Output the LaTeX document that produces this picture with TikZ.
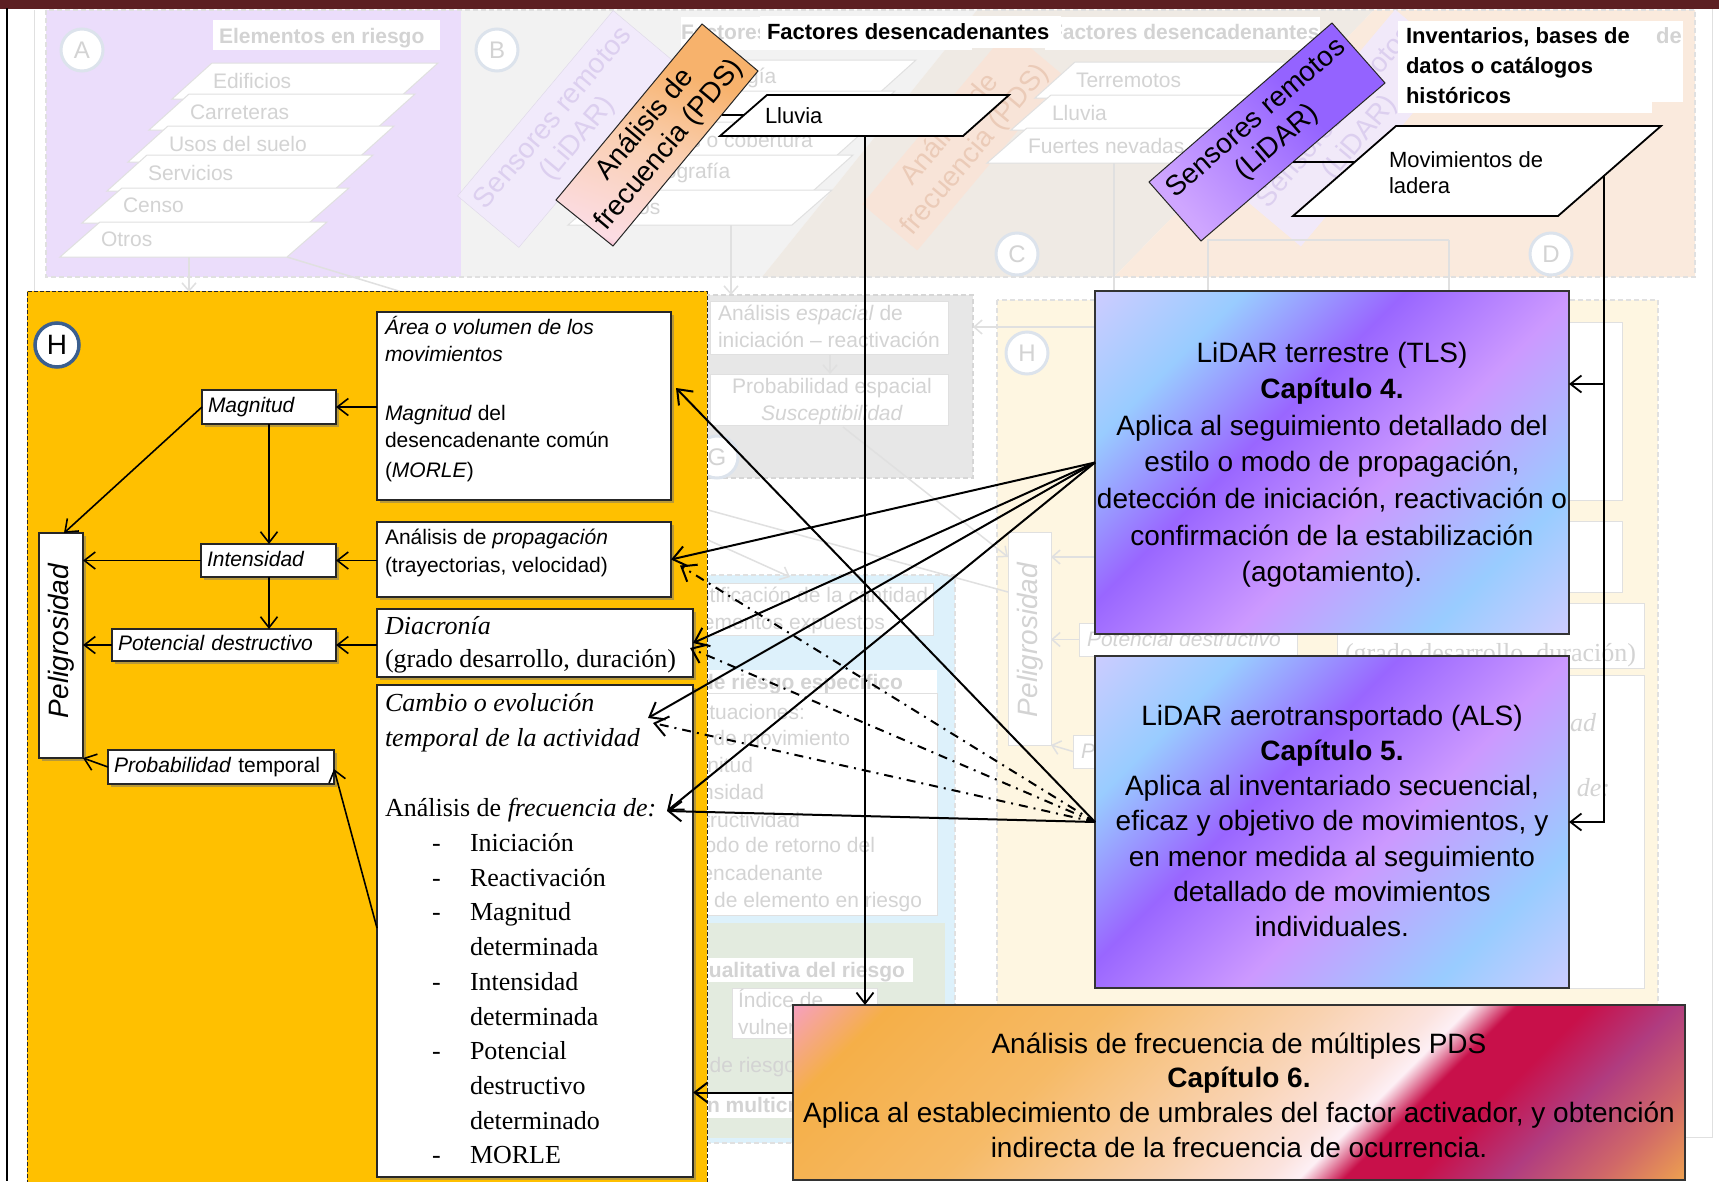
\documentclass[tikz,border=0pt]{standalone}
\usepackage{fontspec}
\setmainfont{Liberation Sans}
\newfontfamily\serifface{Liberation Serif}
\usetikzlibrary{arrows.meta,calc,shadows}

% ---------- palette ----------
\definecolor{topbar}{HTML}{5C1F22}
\definecolor{hazard}{HTML}{FFC000}
\definecolor{ringblue}{HTML}{3B5F8F}
\definecolor{ghost}{HTML}{D3D3D3}
\definecolor{ghostline}{HTML}{E0E0E0}
\definecolor{ghostA}{HTML}{EBDDFB}
\definecolor{ghostB}{HTML}{F2F2F2}
\definecolor{ghostC}{HTML}{EFEAE4}
\definecolor{ghostD}{HTML}{FAEADD}
\definecolor{ghostG}{HTML}{E7E7E7}
\definecolor{ghostSky}{HTML}{DDF1FB}
\definecolor{ghostGreen}{HTML}{E3EBDF}
\definecolor{ghostYellow}{HTML}{FEF6E1}
\definecolor{ghostRing}{HTML}{DCE3EC}
\definecolor{ghostLilac}{HTML}{F1E9FD}
\definecolor{ghostLilacTxt}{HTML}{DCCFEF}
\definecolor{ghostPeach}{HTML}{FBE3D6}
\definecolor{ghostPeachTxt}{HTML}{EBCBB8}
\definecolor{lavA}{HTML}{CCCCFF}
\definecolor{skyB}{HTML}{99CCFF}
\definecolor{violC}{HTML}{9966FF}
\definecolor{lilacD}{HTML}{CC99FF}
\definecolor{capPink}{HTML}{F6A0BE}
\definecolor{capOrange}{HTML}{F5AF48}
\definecolor{capOrangeB}{HTML}{F6BA66}
\definecolor{capPeach}{HTML}{F9D2B0}
\definecolor{capBlush}{HTML}{FBE3DE}
\definecolor{capWhite}{HTML}{FDF0F5}
\definecolor{capCrimson}{HTML}{C8104A}
\definecolor{capPlum}{HTML}{B03C80}
\definecolor{capRose}{HTML}{D06868}
\definecolor{capEnd}{HTML}{EDA050}
\definecolor{pdsMag}{HTML}{E8388C}
\definecolor{pdsPink}{HTML}{FBDCE4}
\definecolor{pdsPeach}{HTML}{FAD0B4}
\definecolor{pdsOrange}{HTML}{F7B26C}
\definecolor{sensLight}{HTML}{CFA6FF}
\definecolor{sensDeep}{HTML}{9463FF}

% ---------- gradients ----------
\pgfdeclarehorizontalshading{lidarfill}{100bp}{color(0bp)=(lavA); color(19.7bp)=(lavA); color(30.6bp)=(skyB); color(42.7bp)=(violC); color(55.5bp)=(lilacD); color(70bp)=(skyB); color(80.3bp)=(lavA); color(100bp)=(lavA)}
\pgfdeclarehorizontalshading{capfill}{100bp}{color(0bp)=(capPink); color(28.8bp)=(capPink); color(32.6bp)=(capOrange); color(41.5bp)=(capOrangeB); color(50bp)=(capPeach); color(54.5bp)=(capBlush); color(55.8bp)=(capWhite); color(57.6bp)=(capCrimson); color(60.5bp)=(capCrimson); color(64bp)=(capPlum); color(67.8bp)=(capRose); color(71.2bp)=(capEnd); color(100bp)=(capEnd)}
\pgfdeclarehorizontalshading{pdsfill}{100bp}{color(0bp)=(pdsMag); color(14bp)=(pdsMag); color(24bp)=(pdsPink); color(46bp)=(pdsPeach); color(66bp)=(pdsOrange); color(100bp)=(pdsOrange)}
\pgfdeclarehorizontalshading{sensfill}{100bp}{color(0bp)=(sensLight); color(25bp)=(sensLight); color(60bp)=(sensDeep); color(100bp)=(sensDeep)}

% a faded parallelogram slab with its label
\newcommand{\ghostslab}[6]{%
  \filldraw[fill=white,draw=ghostline,line width=1pt] (#2,#4) -- (#3,#4) -- (#3-40,#5) -- (#2-40,#5) -- cycle;
  \node[ghosttext,anchor=west] (#1) at (#2+1,{(#4+#5)/2}) {#6};}

\begin{document}
\begin{tikzpicture}[x=1pt,y=-1pt,
  every node/.style={inner sep=0pt,outer sep=0pt},
  ghosttext/.style={text=ghost,font=\fontsize{21}{25}\selectfont},
  ghostbold/.style={text=ghost,font=\bfseries\fontsize{21}{25}\selectfont},
  ghostserif/.style={text=ghost,font=\serifface\fontsize{26}{30}\selectfont},
  ghostbox/.style={fill=white,draw=ghostline,line width=1pt},
  ghostarrow/.style={draw=ghostline,line width=1.5pt,-{Straight Barb[length=8pt,width=14pt]}},
  ghostring/.style={circle,minimum size=42pt,fill=white,draw=ghostRing,line width=3pt,text=ghost,font=\fontsize{24}{24}\selectfont},
  wbox/.style={draw=black!85,fill=white,line width=1.2pt,drop shadow={shadow xshift=2.5pt,shadow yshift=-2.5pt,fill=black!55,opacity=0.5}},
  tagbox/.style={wbox,anchor=north west,align=left,inner xsep=6pt,font=\fontsize{21}{26}\selectfont,text height=15.5pt,text depth=4.5pt},
  sansline/.style={anchor=base west,font=\fontsize{21}{26}\selectfont},
  serifline/.style={anchor=base west,font=\serifface\fontsize{26}{30}\selectfont},
  boxline/.style={anchor=base,font=\fontsize{28}{34}\selectfont},
  arrowlink/.style={line width=1.6pt,-{Straight Barb[length=11pt,width=17pt]}},
  hubline/.style={line width=2pt,-{Straight Barb[length=13pt,width=20pt]}},
  hubdots/.style={hubline,dash pattern=on 9pt off 6pt on 2pt off 6pt},
]
\useasboundingbox (0,0) rectangle (1719,1181);
\fill[white] (0,0) rectangle (1719,1181);

% =============== washed-out scheme in the background ===============
\fill[ghostA] (46,10) rectangle (461,277);
\fill[ghostB] (461,10) -- (977,10) -- (762,277) -- (461,277) -- cycle;
\fill[ghostC] (977,10) -- (1374,10) -- (1114,277) -- (762,277) -- cycle;
\fill[ghostD] (1374,10) -- (1695,10) -- (1695,277) -- (1114,277) -- cycle;
\draw[ghostline,line width=1.2pt,dash pattern=on 5pt off 3pt] (46,10) rectangle (1695,277);
\draw[ghostline,line width=1pt] (34,10) -- (34,291);
\draw[ghostline,line width=1pt] (1712,8) -- (1712,1137) -- (1685,1137);

\node[ghostring] (ringA) at (82,50) {A};
\node[ghostring] (ringB) at (497,50) {B};
\fill[white] (213,20) rectangle (440,50);
\node[ghostbold,anchor=base west] (elem) at (219,43) {Elementos en riesgo};

\ghostslab{gEdif}{212}{438}{63}{99}{Edificios}
\ghostslab{gCarr}{189}{415}{94}{130}{Carreteras}
\ghostslab{gUsos}{168}{394}{126}{162}{Usos del suelo}
\ghostslab{gServ}{147}{373}{155}{191}{Servicios}
\ghostslab{gCenso}{122}{349}{188}{223}{Censo}
\ghostslab{gOtros}{100}{327}{222}{257}{Otros}

\ghostslab{gLito}{696}{916}{60}{96}{Litología}
\filldraw[fill=white,draw=ghostline,line width=1pt] (674,91) -- (895,91) -- (855,127) -- (634,127) -- cycle;
\ghostslab{gUsoB}{652}{874}{122}{158}{Usos o cobertura}
\ghostslab{gTopo}{630}{853}{155}{191}{Topografía}
\ghostslab{gOtrB}{608}{832}{190}{225}{Otros}

% faded copy of the remote-sensing tag (B)
\begin{scope}[shift={(566,129)},rotate=50]
  \filldraw[fill=ghostLilac,draw=ghostLilac!80!gray,opacity=0.85] (-121,-40) rectangle (121,40);
\end{scope}
\node[rotate=50,align=center,text=ghostLilacTxt,font=\fontsize{28}{32}\selectfont] (gSensB) at (566,129) {Sensores remotos\\(LiDAR)};

% faded copy of the frequency tag (C)
\begin{scope}[shift={(963,140)},rotate=50]
  \fill[ghostPeach,opacity=0.8] (-114,-36) rectangle (114,36);
\end{scope}
\node[rotate=50,align=center,text=ghostPeachTxt,font=\fontsize{28}{32}\selectfont] (gPdsC) at (963,140) {Análisis de\\frecuencia (PDS)};

\ghostslab{gTerr}{1075}{1345}{62}{98}{Terremotos}
\ghostslab{gLluv}{1051}{1320}{95}{130}{Lluvia}
\ghostslab{gNev}{1027}{1295}{128}{163}{Fuertes nevadas}

\fill[white] (681,17) rectangle (972,50);
\node[ghostbold,anchor=base west,font=\bfseries\fontsize{21}{26}\selectfont] (gFacB) at (681,39) {Factores desencadenantes};
\fill[white] (1045,17) rectangle (1320,50);
\node[ghostbold,anchor=base west,font=\bfseries\fontsize{21}{26}\selectfont] (gFacC) at (1050,39) {Factores desencadenantes};
\fill[white] (1440,21) rectangle (1683,102);
\node[ghostbold,anchor=base west,font=\bfseries\fontsize{22}{26}\selectfont] (gInvD) at (1458,43) {Inventarios, bases de};

% faded copy of the remote-sensing tag (D)
\begin{scope}[shift={(1348,128)},rotate=50]
  \fill[ghostLilac,opacity=0.9] (-121,-40) rectangle (121,40);
\end{scope}
\node[rotate=50,align=center,text=ghostLilacTxt,font=\fontsize{28}{32}\selectfont] (gSensD) at (1348,128) {Sensores remotos\\(LiDAR)};

\node[ghostring] (ringC) at (1017,254) {C};
\node[ghostring] (ringD) at (1551,254) {D};

\draw[ghostarrow] (189,257) -- (189,292);
\draw[ghostline,line width=1.5pt] (287,257) -- (402,292);
\draw[ghostarrow] (731,225) -- (731,295);
\draw[ghostarrow] (1114,163) -- (1114,300);
\draw[ghostline,line width=1.5pt] (1208,292) -- (1208,240) -- (1449,240);
\draw[ghostarrow] (1449,240) -- (1449,300);

% spatial analysis block (G)
\fill[ghostG] (690,295) rectangle (973,478);
\draw[ghostline!90!gray,line width=1.2pt,dash pattern=on 5pt off 3pt] (690,295) rectangle (973,478);
\node[ghostbox,anchor=north west,minimum width=238,minimum height=53] (gEsp) at (710,301) {};
\node[ghosttext,anchor=base west] (gEsp1) at (718,320) {Análisis \textit{espacial} de};
\node[ghosttext,anchor=base west] (gEsp2) at (718,347) {iniciación -- reactivación};
\node[ghostbox,anchor=north west,minimum width=238,minimum height=51] (gSus) at (710,374) {};
\node[ghosttext,anchor=base] (gSus1) at (832,393) {Probabilidad espacial};
\node[ghosttext,anchor=base] (gSus2) at (832,420) {\textit{Susceptibilidad}};
\draw[ghostarrow] (gEsp.south -| 830,0) -- (gSus.north -| 830,0);
\node[ghostring] (ringG) at (717,457) {G};

% exposure / specific risk block
\fill[ghostSky] (690,575) rectangle (955,1143);
\draw[ghostline,line width=1.2pt,dash pattern=on 5pt off 3pt] (690,575) rectangle (955,1143);
\node[ghostbox,anchor=north west,minimum width=243,minimum height=52] (gCant) at (690,583) {};
\node[ghosttext,anchor=base east] (gCant1) at (928,602) {Cuantificación de la cantidad};
\node[ghosttext,anchor=base east] (gCant2) at (885,629) {de elementos expuestos};
\fill[white] (690,670) rectangle (937,695);
\node[ghostbold,anchor=base east] (gEsc) at (903,689) {Escenario de riesgo específico};
\node[ghostbox,anchor=north west,minimum width=247,minimum height=222] (gSit) at (690,693) {};
\node[ghosttext,anchor=base east] (gSit1) at (805,719) {Situaciones:};
\node[ghosttext,anchor=base east] (gSit2) at (850,745) {Tipo de movimiento};
\node[ghosttext,anchor=base east] (gSit3) at (753,772) {Magnitud};
\node[ghosttext,anchor=base east] (gSit4) at (764,799) {Intensidad};
\node[ghosttext,anchor=base east] (gSit5) at (800,827) {Destructividad};
\node[ghosttext,anchor=base east] (gSit6) at (875,852) {Periodo de retorno del};
\node[ghosttext,anchor=base east] (gSit7) at (823,880) {desencadenante};
\node[ghosttext,anchor=base east] (gSit8) at (922,907) {Tipo de elemento en riesgo};
\fill[ghostGreen] (690,923) rectangle (945,1138);
\fill[white] (690,958) rectangle (913,982);
\node[ghostbold,anchor=base east] (gCual) at (905,977) {Evaluación cualitativa del riesgo};
\node[ghostbox,anchor=north west,minimum width=145,minimum height=50] (gVul) at (732,988) {};
\node[ghosttext,anchor=base west] (gVul1) at (738,1007) {Índice de};
\node[ghosttext,anchor=base west] (gVul2) at (738,1034) {vulnerabilidad};
\node[ghosttext,anchor=base east] (gMapa) at (796,1072) {Mapa de riesgo};
\fill[white] (690,1093) rectangle (793,1118);
\node[ghostbold,anchor=base west] (gMult) at (609,1112) {Evaluación multicriterio};

% hazard block repeated on the right (H)
\fill[ghostYellow] (997,300) rectangle (1658,1140);
\draw[ghostline,line width=1.2pt,dash pattern=on 5pt off 3pt] (997,300) rectangle (1658,1140);
\node[ghostring] (ringH2) at (1027,353) {H};
\node[ghostbox,anchor=north west,minimum width=43,minimum height=213] (gPel) at (1008,532) {};
\node[rotate=90,text=ghost,font=\itshape\fontsize{28}{30}\selectfont] (gPelT) at (1030,640) {Peligrosidad};
\node[ghostbox,anchor=north west,minimum width=218,minimum height=33] (gPot) at (1079,623) {};
\node[ghosttext,anchor=base west,font=\itshape\fontsize{21}{25}\selectfont] (gPotT) at (1087,646) {Potencial destructivo};
\node[ghostbox,anchor=north west,minimum width=217,minimum height=33] (gProb) at (1073,735) {};
\node[ghosttext,anchor=base west,font=\itshape\fontsize{21}{25}\selectfont] (gProbT) at (1081,758) {Probabilidad};
\node[ghostbox,anchor=north west,minimum width=322,minimum height=178] (gR1) at (1300,322) {};
\node[ghostbox,anchor=north west,minimum width=322,minimum height=71] (gR2) at (1300,521) {};
\node[ghostbox,anchor=north west,minimum width=307,minimum height=65] (gR3) at (1337,603) {};
\node[ghostserif,anchor=base west] (gR3T) at (1345,661) {(grado desarrollo, duración)};
\node[ghostbox,anchor=north west,minimum width=307,minimum height=313] (gR4) at (1337,675) {};
\node[ghostserif,anchor=base east,font=\serifface\itshape\fontsize{26}{30}\selectfont] (gR4a) at (1596,731) {temporal de la actividad};
\node[ghostserif,anchor=base east] (gR4b) at (1610,796) {Análisis de \textit{frecuencia de:}};
\draw[ghostarrow] (gPot.west) -- (gPot.west -| gPel.east);
\draw[ghostarrow] (1095,557) -- (gPel.east |- 0,557);
\draw[ghostarrow] (gProb.west) -- (gPel.south east);

\draw[ghostarrow] (1095,327) -- (973,327);
\draw[ghostarrow] (843,427) -- (1008,557);
\draw[ghostline,line width=1.5pt] (708,510) -- (1008,592);
\draw[ghostarrow] (708,540) -- (790,577);

% =============== top frame ===============
\fill[topbar] (0,0) rectangle (1719,8.5);
\draw[line width=1.3pt] (7,8) -- (7,1181);

% =============== hazard panel (H) ===============
\fill[hazard] (27,291) rectangle (707,1190);
\draw[black!85,line width=0.9pt,dash pattern=on 4pt off 2pt] (27,1190) -- (27,291) -- (707,291) -- (707,1190);
\node[circle,minimum size=44pt,fill=white,draw=ringblue,line width=3.5pt,font=\fontsize{28}{28}\selectfont] (hmark) at (57,345) {H};

\node[tagbox,minimum width=134,minimum height=34,text width=122] (magn) at (202,390) {\itshape Magnitud};
\node[tagbox,minimum width=135,minimum height=33,text width=123] (inten) at (201,544) {\itshape Intensidad};
\node[tagbox,minimum width=224,minimum height=32,text width=212] (poten) at (112,629) {\itshape Potencial destructivo};
\node[tagbox,minimum width=226,minimum height=34,text width=214] (prob) at (108,750) {\textit{Probabilidad}~temporal};
\node[wbox,anchor=north west,minimum width=44,minimum height=225] (pelig) at (39,533) {};
\node[rotate=90,font=\itshape\fontsize{28}{30}\selectfont] (peligT) at (61,641) {Peligrosidad};

\node[wbox,anchor=north west,minimum width=294,minimum height=188] (area) at (377,312) {};
\node[sansline] (area1) at (385,334) {\itshape Área o volumen de los};
\node[sansline] (area2) at (385,361) {\itshape movimientos};
\node[sansline] (area3) at (385,420) {\textit{Magnitud} del};
\node[sansline] (area4) at (385,447) {desencadenante común};
\node[sansline] (area5) at (385,477) {(\textit{MORLE})};

\node[wbox,anchor=north west,minimum width=294,minimum height=75] (prop) at (377,522) {};
\node[sansline] (prop1) at (385,544) {Análisis de \textit{propagación}};
\node[sansline] (prop2) at (385,572) {(trayectorias, velocidad)};

\node[wbox,anchor=north west,minimum width=316,minimum height=68] (diac) at (377,609) {};
\node[serifline] (diac1) at (385,634) {\itshape Diacronía};
\node[serifline] (diac2) at (385,667) {(grado desarrollo, duración)};

\node[wbox,anchor=north west,minimum width=316,minimum height=492] (cambio) at (377,685) {};
\node[serifline] (camb1) at (385,711) {\itshape Cambio o evolución};
\node[serifline] (camb2) at (385,746) {\itshape temporal de la actividad};
\node[serifline] (camb3) at (385,816) {Análisis de \textit{frecuencia de:}};
\foreach \w [count=\i from 0] in {Iniciación,Reactivación,Magnitud,determinada,Intensidad,determinada,Potencial,destructivo,determinado,MORLE}
  \node[serifline] (citem\i) at (470,851.5+34.7*\i) {\w};
\foreach \i in {0,1,2,4,6,9}
  \node[serifline] (cdash\i) at (432,851.5+34.7*\i) {-};

% =============== LiDAR and PDS boxes ===============
\node[anchor=north west,minimum width=474,minimum height=343] (tls) at (1095,291) {};
\begin{scope}
  \clip (tls.north west) rectangle (tls.south east);
  \shade[shading=lidarfill,shading angle=-45] ($(tls.center)+(-237,-237)$) rectangle ($(tls.center)+(237,237)$);
\end{scope}
\draw[black!80,line width=1.3pt] (tls.north west) rectangle (tls.south east);
\foreach \ln [count=\i from 0] in {LiDAR terrestre (TLS),\textbf{Capítulo 4.},Aplica al seguimiento detallado del,{estilo o modo de propagación,},{detección de iniciación, reactivación o},confirmación de la estabilización,(agotamiento).}
  \node[boxline] (tlsL\i) at (1332,362+36.6*\i) {\ln};

\node[anchor=north west,minimum width=474,minimum height=332] (als) at (1095,656) {};
\begin{scope}
  \clip (als.north west) rectangle (als.south east);
  \shade[shading=lidarfill,shading angle=-45] ($(als.center)+(-237,-237)$) rectangle ($(als.center)+(237,237)$);
\end{scope}
\draw[black!80,line width=1.3pt] (als.north west) rectangle (als.south east);
\foreach \ln [count=\i from 0] in {LiDAR aerotransportado (ALS),\textbf{Capítulo 5.},{Aplica al inventariado secuencial,},{eficaz y objetivo de movimientos, y},en menor medida al seguimiento,detallado de movimientos,individuales.}
  \node[boxline] (alsL\i) at (1332,725+35.3*\i) {\ln};

\node[anchor=north west,minimum width=892,minimum height=175] (cap6) at (793,1005) {};
\begin{scope}
  \clip (cap6.north west) rectangle (cap6.south east);
  \shade[shading=capfill,shading angle=-45] ($(cap6.center)+(-446,-446)$) rectangle ($(cap6.center)+(446,446)$);
\end{scope}
\draw[black!80,line width=1.3pt] (cap6.north west) rectangle (cap6.south east);
\foreach \ln [count=\i from 0] in {Análisis de frecuencia de múltiples PDS,\textbf{Capítulo 6.},{Aplica al establecimiento de umbrales del factor activador, y obtención},indirecta de la frecuencia de ocurrencia.}
  \node[boxline] (capL\i) at (1239,1053+34.7*\i) {\ln};

% =============== sources at the top ===============
\fill[white] (760,16) rectangle (1061,48);
\node[anchor=base west,font=\bfseries\fontsize{22}{26}\selectfont] (factores) at (767,39) {Factores desencadenantes};
\fill[white] (1398,21) rectangle (1652,113);
\node[anchor=base west,font=\bfseries\fontsize{22}{30}\selectfont] (inv1) at (1406,43) {Inventarios, bases de};
\node[anchor=base west,font=\bfseries\fontsize{22}{30}\selectfont] (inv2) at (1406,73) {datos o catálogos};
\node[anchor=base west,font=\bfseries\fontsize{22}{30}\selectfont] (inv3) at (1406,103) {históricos};

\filldraw[fill=white,draw=black,line width=1.8pt] (767,95) -- (1009,95) -- (963,136) -- (720,136) -- cycle;
\node[anchor=base west,font=\fontsize{22}{26}\selectfont] (lluvia) at (765,123) {Lluvia};
\coordinate (lluviaSide) at (744,115);
\coordinate (lluviaFoot) at (865,136);

\filldraw[fill=white,draw=black,line width=1.8pt] (1396,126) -- (1661,126) -- (1558,216) -- (1293,216) -- cycle;
\node[anchor=base west,font=\fontsize{22}{26}\selectfont] (mov1) at (1389,167) {Movimientos de};
\node[anchor=base west,font=\fontsize{22}{26}\selectfont] (mov2) at (1389,193) {ladera};
\coordinate (movSide) at (1355,162);
\coordinate (movFoot) at (1604,175);

% frequency-analysis tag
\shade[shading=pdsfill,shading angle=70] (702,24) -- (758,71) -- (613,246) -- (556,200) -- cycle;
\draw[black!85,line width=1pt] (702,24) -- (758,71) -- (613,246) -- (556,200) -- cycle;
\node[rotate=50,align=center,font=\fontsize{28}{32}\selectfont] (pds) at (657.5,135) {Análisis de\\frecuencia (PDS)};
\coordinate (pdsEdge) at (721.5,115);

% remote-sensing tag
\shade[shading=sensfill,shading angle=41] (1332,23) -- (1385,83) -- (1201,241) -- (1149,182) -- cycle;
\draw[black!85,line width=1pt] (1332,23) -- (1385,83) -- (1201,241) -- (1149,182) -- cycle;
\node[rotate=41,align=center,font=\fontsize{28}{32}\selectfont] (sens) at (1267,131) {Sensores remotos\\(LiDAR)};
\coordinate (sensEdge) at (1293,162);

% =============== connectors ===============
\draw[line width=1.6pt] (pdsEdge) -- (lluviaSide);
\draw[line width=1.6pt] (sensEdge) -- (movSide);
\draw[arrowlink,line width=1.8pt] (lluviaFoot) -- (lluviaFoot |- cap6.north);
\coordinate (tlsIn) at ($(tls.north east)+(0,93)$);
\draw[arrowlink,line width=1.8pt] (movFoot) -- (movFoot |- als.east) -- (als.east);
\draw[arrowlink,line width=1.8pt] (movFoot |- tlsIn) -- (tlsIn);

% inside the hazard panel
\draw[arrowlink] (area.west |- magn.east) -- (magn.east);
\draw[arrowlink] (magn.west) -- ($(pelig.north)+(3,0)$);
\draw[arrowlink] (magn.south) -- (magn.south |- inten.north);
\draw[arrowlink] (prop.west |- inten.east) -- (inten.east);
\draw[arrowlink] (inten.west) -- (inten.west -| pelig.east);
\draw[arrowlink] (inten.south -| magn.south) -- (magn.south |- poten.north);
\draw[arrowlink] (diac.west |- poten.east) -- (poten.east);
\draw[arrowlink] (poten.west) -- (poten.west -| pelig.east);
\draw[arrowlink] (prob.west) -- (pelig.south east);
\coordinate (cambOut) at ($(cambio.north west)+(0,243)$);
\draw[arrowlink] (cambOut) -- ($(prob.east)+(0,2)$);

% from the method boxes
\coordinate (areaIn) at ($(area.east)+(5,-18)$);
\coordinate (cambIn) at ($(cambio.north west)+(271,33)$);
\coordinate (freqIn) at ($(cambio.north west)+(290,126)$);
\draw[hubline] (tls.west) -- (prop.east);
\draw[hubline] (tls.west) -- (diac.east);
\draw[hubline] (tls.west) -- (cambIn);
\draw[hubline] (tls.west) -- (freqIn);
\draw[hubline] (als.west) -- (freqIn);
\draw[hubline] (als.west) -- (areaIn);
\draw[hubdots] (als.west) -- ($(prop.east)+(9,6)$);
\draw[hubdots] (als.west) -- ($(diac.east)+(-3,5)$);
\draw[hubdots] (als.west) -- ($(cambIn)+(5,5)$);
\draw[hubline] (cap6.west) -- (cap6.west -| cambio.east);
\end{tikzpicture}
\end{document}
